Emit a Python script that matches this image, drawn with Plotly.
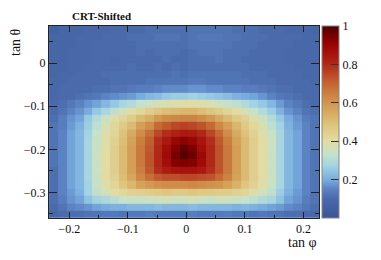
import plotly.graph_objects as go

# bin centres (tan phi, tan theta)
x_centers = [-0.227, -0.212, -0.197, -0.182, -0.168, -0.153, -0.138, -0.123, -0.108, -0.093,
             -0.078, -0.063, -0.049, -0.034, -0.019, -0.004, 0.011, 0.026, 0.041, 0.056,
             0.071, 0.086, 0.100, 0.115, 0.130, 0.145, 0.160, 0.175, 0.190, 0.205, 0.219]
y_centers = [-0.351, -0.334, -0.317, -0.300, -0.283, -0.265, -0.248, -0.231, -0.214, -0.197,
             -0.180, -0.162, -0.145, -0.128, -0.111, -0.094, -0.077, -0.060, -0.042, -0.025,
             -0.008, 0.009, 0.026, 0.043, 0.060, 0.078]

# normalised counts, rows from bottom (tan theta low) to top
z_rows = [
    [.08, .10, .11, .11, .12, .12, .13, .13, .12, .13, .13, .14, .13, .13, .13, .13, .14, .13, .13, .13, .14, .13, .13, .12, .13, .12, .12, .11, .11, .10, .09],
    [.10, .12, .15, .16, .17, .19, .20, .21, .21, .22, .22, .22, .23, .22, .22, .22, .23, .22, .22, .22, .22, .21, .22, .21, .20, .19, .18, .16, .15, .13, .11],
    [.11, .14, .17, .19, .24, .27, .29, .31, .33, .34, .34, .35, .35, .36, .35, .35, .36, .35, .34, .35, .35, .34, .33, .32, .30, .28, .24, .19, .17, .14, .12],
    [.11, .15, .18, .21, .27, .32, .36, .40, .42, .44, .45, .46, .47, .48, .47, .47, .48, .47, .47, .46, .46, .44, .43, .39, .36, .32, .26, .21, .18, .15, .12],
    [.11, .15, .19, .22, .27, .34, .39, .43, .48, .52, .57, .59, .61, .62, .62, .62, .63, .62, .61, .60, .57, .53, .48, .44, .39, .34, .28, .22, .19, .15, .12],
    [.11, .15, .19, .22, .28, .34, .40, .44, .50, .56, .63, .68, .72, .74, .74, .75, .75, .74, .73, .69, .64, .57, .51, .45, .40, .35, .28, .22, .19, .15, .12],
    [.11, .15, .19, .22, .28, .35, .40, .45, .51, .58, .65, .72, .79, .83, .85, .86, .86, .84, .79, .73, .66, .58, .51, .45, .40, .34, .28, .22, .19, .15, .12],
    [.12, .15, .19, .22, .28, .34, .40, .45, .51, .58, .66, .73, .80, .87, .93, .94, .93, .88, .80, .73, .66, .58, .51, .45, .40, .35, .28, .22, .19, .15, .12],
    [.12, .15, .19, .22, .28, .35, .40, .45, .51, .58, .66, .73, .80, .88, .95, .99, .96, .89, .80, .73, .66, .58, .51, .45, .40, .34, .28, .22, .19, .15, .12],
    [.12, .15, .19, .22, .28, .34, .40, .45, .51, .58, .66, .72, .80, .87, .93, .97, .94, .87, .80, .73, .66, .58, .51, .45, .40, .35, .28, .22, .19, .15, .12],
    [.12, .15, .19, .22, .28, .34, .39, .44, .50, .57, .65, .71, .79, .84, .90, .92, .90, .85, .79, .72, .65, .57, .51, .45, .40, .35, .28, .22, .19, .15, .12],
    [.12, .15, .19, .22, .27, .33, .39, .43, .49, .55, .62, .68, .75, .79, .82, .84, .83, .80, .75, .69, .62, .55, .49, .44, .39, .34, .28, .22, .19, .15, .12],
    [.12, .14, .18, .21, .26, .32, .37, .42, .47, .51, .58, .62, .69, .72, .75, .76, .75, .73, .69, .63, .58, .52, .47, .42, .38, .32, .27, .21, .18, .15, .12],
    [.11, .14, .17, .19, .25, .30, .34, .39, .43, .46, .51, .54, .59, .62, .63, .64, .64, .62, .59, .55, .51, .47, .44, .39, .35, .30, .25, .20, .17, .14, .12],
    [.10, .12, .15, .17, .20, .25, .28, .32, .36, .39, .42, .45, .48, .50, .51, .52, .52, .50, .48, .46, .43, .40, .37, .33, .30, .26, .21, .17, .15, .12, .11],
    [.10, .11, .13, .15, .17, .19, .22, .25, .28, .30, .33, .35, .37, .38, .39, .40, .40, .39, .38, .36, .34, .32, .30, .27, .25, .22, .18, .15, .13, .11, .10],
    [.09, .10, .10, .11, .12, .13, .15, .16, .17, .18, .20, .22, .23, .25, .26, .26, .27, .26, .25, .24, .23, .21, .20, .19, .17, .15, .13, .12, .11, .10, .10],
    [.09, .10, .10, .10, .10, .11, .11, .12, .12, .13, .14, .14, .15, .16, .16, .16, .17, .17, .16, .16, .15, .15, .14, .14, .13, .12, .11, .11, .10, .10, .10],
    [.09, .09, .10, .10, .10, .10, .10, .11, .11, .11, .11, .12, .12, .12, .12, .12, .13, .13, .12, .12, .12, .12, .12, .11, .11, .11, .10, .10, .10, .10, .09],
    [.08, .09, .09, .10, .10, .10, .11, .11, .11, .11, .11, .11, .11, .11, .12, .11, .12, .12, .12, .12, .12, .12, .11, .11, .11, .10, .10, .10, .10, .09, .09],
    [.08, .08, .09, .09, .10, .10, .10, .10, .10, .11, .10, .10, .11, .10, .11, .10, .11, .11, .11, .11, .11, .11, .11, .10, .10, .10, .10, .10, .09, .09, .09],
    [.08, .08, .09, .09, .09, .10, .10, .09, .10, .10, .10, .10, .10, .11, .10, .10, .11, .11, .11, .12, .11, .11, .10, .10, .10, .10, .10, .09, .09, .09, .09],
    [.08, .08, .09, .09, .09, .10, .10, .10, .10, .10, .11, .10, .11, .11, .11, .10, .11, .12, .12, .12, .11, .11, .11, .10, .10, .10, .10, .09, .09, .09, .09],
    [.08, .08, .08, .09, .09, .10, .10, .10, .10, .10, .11, .11, .11, .11, .11, .11, .12, .12, .12, .12, .12, .11, .11, .11, .10, .10, .10, .10, .09, .09, .09],
    [.08, .08, .08, .09, .09, .09, .10, .10, .10, .11, .11, .11, .12, .12, .12, .11, .12, .13, .13, .13, .12, .12, .11, .11, .11, .10, .10, .10, .10, .09, .09],
    [.07, .08, .08, .08, .09, .09, .09, .10, .10, .10, .10, .11, .11, .11, .11, .11, .12, .12, .12, .12, .12, .11, .11, .11, .10, .10, .10, .09, .09, .09, .08],
]

x_ticks = [-0.2, -0.1, 0, 0.1, 0.2]
y_ticks = [-0.3, -0.2, -0.1, 0]
z_ticks = [0.2, 0.4, 0.6, 0.8, 1]
z_tick_labels = ["0.2", "0.4", "0.6", "0.8", "1"]

colorscale = [
    [0.00, "#3a5494"],
    [0.10, "#4a6aab"],
    [0.15, "#5b82c2"],
    [0.20, "#78acdf"],
    [0.27, "#a2d2e4"],
    [0.33, "#c4e2cc"],
    [0.40, "#e2dca4"],
    [0.48, "#dec680"],
    [0.56, "#d6a65c"],
    [0.64, "#cc8442"],
    [0.72, "#c05a2e"],
    [0.80, "#b02818"],
    [0.88, "#a20a08"],
    [0.94, "#800000"],
    [1.00, "#4c0000"],
]

FONT = "Liberation Serif"

fig = go.Figure(go.Heatmap(
    x=x_centers, y=y_centers, z=z_rows,
    zmin=0, zmax=1, colorscale=colorscale,
    colorbar=dict(
        thickness=17, thicknessmode="pixels", len=1, lenmode="fraction",
        x=1.011, xanchor="left", y=0.5, yanchor="middle", xpad=0, ypad=0,
        outlinewidth=1, outlinecolor="#888888",
        ticks="inside", ticklen=8, tickcolor="#333333", tickwidth=1,
        tickvals=z_ticks, ticktext=z_tick_labels,
        tickfont=dict(family=FONT, size=12, color="#111111"),
    ),
))

axis_common = dict(
    showline=True, linecolor="#222222", linewidth=1, mirror="allticks",
    ticks="inside", tickcolor="#222222", tickwidth=1,
    showgrid=False, zeroline=False,
    tickfont=dict(family=FONT, size=12, color="#111111"),
)

fig.update_xaxes(range=[-0.2346, 0.2266], tickvals=x_ticks, ticklen=6,
                 minor=dict(ticks="inside", ticklen=3, dtick=0.05, tick0=0, tickcolor="#222222"),
                 **axis_common)
fig.update_yaxes(range=[-0.3596, 0.0865], tickvals=y_ticks, ticklen=8,
                 minor=dict(ticks="inside", ticklen=4, dtick=0.05, tick0=0, tickcolor="#222222"),
                 **axis_common)

fig.update_layout(
    width=381, height=260,
    margin=dict(l=49, r=62, t=26, b=42),
    paper_bgcolor="white", plot_bgcolor="white",
    font=dict(family=FONT, color="#111111"),
    annotations=[
        dict(text="<b>CRT-Shifted</b>", xref="paper", yref="paper", x=0.078, y=1.052,
             xanchor="left", yanchor="middle", showarrow=False,
             font=dict(family=FONT, size=11, color="#111111")),
        dict(text="tan θ", xref="paper", yref="paper", x=-0.126, y=1.0,
             xanchor="center", yanchor="top", textangle=-90, showarrow=False,
             font=dict(family=FONT, size=14, color="#111111")),
        dict(text="tan φ", xref="paper", yref="paper", x=1.0, y=-0.125,
             xanchor="right", yanchor="middle", showarrow=False,
             font=dict(family=FONT, size=14, color="#111111")),
    ],
)

fig.write_html("out.html", config={"displayModeBar": False},
               post_script="document.body.style.margin='0';")
